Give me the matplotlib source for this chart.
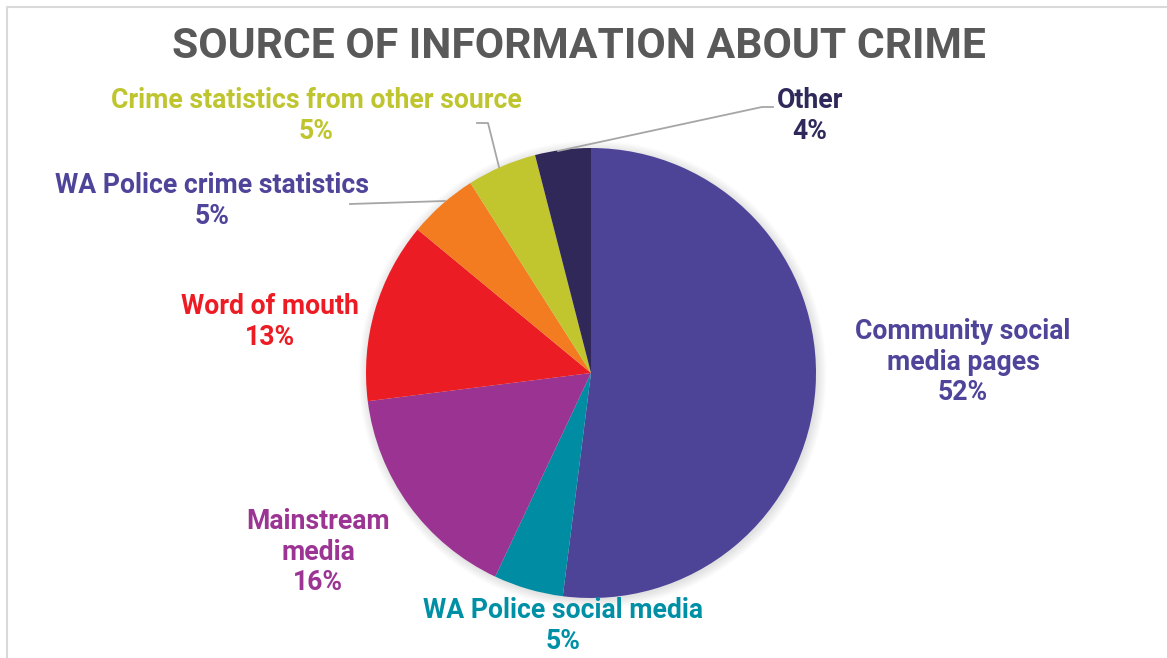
import matplotlib.pyplot as plt
from matplotlib.patches import Circle

W, H = 1167, 658

categories = [
    "Community social\nmedia pages",
    "WA Police social media",
    "Mainstream\nmedia",
    "Word of mouth",
    "WA Police crime statistics",
    "Crime statistics from other source",
    "Other",
]
shares = [52, 5, 16, 13, 5, 5, 4]
slice_colors = ["#4D4498", "#008DA3", "#9A3391", "#EC1C24", "#F37C20", "#C1C62F", "#2F2859"]
label_colors = ["#4E4499", "#0090A6", "#9B3493", "#ED1C24", "#4E4499", "#BFC52E", "#2E295A"]

# label centres in pixel coordinates (x, y from top)
label_pos = [(963, 362), (563, 626), (318, 552), (270, 322), (212, 201), (316, 116), (810, 116)]

plt.rcParams["font.family"] = ["Roboto", "DejaVu Sans"]

fig = plt.figure(figsize=(W / 100, H / 100), dpi=100)
ax = fig.add_axes([0, 0, 1, 1])
ax.set_xlim(0, W)
ax.set_ylim(0, H)
ax.set_aspect("equal")
ax.axis("off")


def py(y):
    return H - y


cx, cy, r = 591, py(373), 225

# soft shadow under the pie
for i in range(10):
    ax.add_patch(Circle((cx + 1.5, cy - 1.5), r + 9 - i, color="black", alpha=0.012, lw=0, zorder=1))

ax.pie(shares, colors=slice_colors, startangle=90, counterclock=False,
       center=(cx, cy), radius=r, frame=True,
       wedgeprops=dict(linewidth=0, zorder=2))
ax.set_xlim(0, W)
ax.set_ylim(0, H)
ax.axis("off")

for name, val, col, (x, y) in zip(categories, shares, label_colors, label_pos):
    ax.text(x, py(y), f"{name}\n{val}%", ha="center", va="center", color=col,
            fontsize=19.2, fontweight="bold", linespacing=1.15, zorder=5)

# leader lines
lc = "#A6A6A6"
ax.plot([477, 488, 499], [py(123), py(123), py(167)], color=lc, lw=1.3, zorder=4)
ax.plot([773, 762, 558], [py(107), py(107), py(151)], color=lc, lw=1.3, zorder=4)
ax.plot([350, 445], [py(204), py(201)], color=lc, lw=1.3, zorder=4)

ax.text(579, py(46), "SOURCE OF INFORMATION ABOUT CRIME", ha="center", va="center",
        color="#595959", fontsize=30.7, fontweight="bold", zorder=5)

# chart area border
ax.plot([7, 7, W], [0, py(7), py(7)], color="#D9D9D9", lw=1.5, zorder=6)

fig.savefig("out.png", dpi=100)
